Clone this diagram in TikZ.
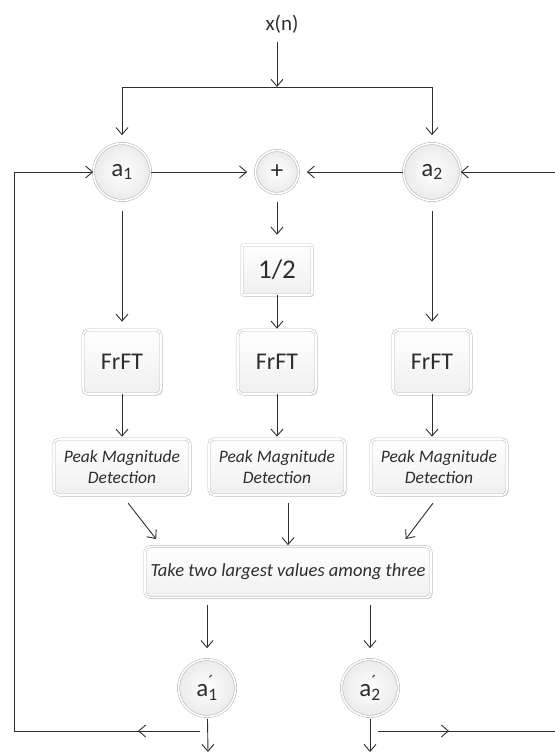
\documentclass[tikz,border=0pt]{standalone}
\usepackage{fontspec}
\setmainfont{Carlito}
\usetikzlibrary{arrows.meta,shadows}
\tikzset{ball/.style = {circle, draw=gray!55, double=white, double distance=1.6pt, line width=.6pt,
                        inner color=white, outer color=gray!16, minimum size=57pt, inner sep=0pt,
                        font=\fontsize{25}{25}\selectfont},
         blk/.style  = {rectangle, rounded corners=5pt, draw=gray!50, double=white, double distance=1.6pt,
                        line width=.6pt, top color=white, bottom color=gray!12, inner sep=0pt,
                        drop shadow={shadow xshift=1.5pt, shadow yshift=-1.5pt, fill=gray!70, opacity=.45}},
         fft/.style  = {blk, minimum width=78pt, minimum height=64pt, font=\fontsize{24}{24}\selectfont},
         pmd/.style  = {blk, minimum width=136pt, minimum height=56pt, align=center,
                        font=\fontsize{17.5}{21}\selectfont\itshape}}
\newcommand{\apr}[1]{a\rlap{\textsuperscript{´}}\textsubscript{#1}}

\begin{document}
\begin{tikzpicture}[x=1pt, y=-1pt, color=black!82, line width=.9pt, >={Straight Barb[length=7pt,width=12pt]}]
    \useasboundingbox (0,0) rectangle (554,752);
    \node[font=\fontsize{21}{21}\selectfont] (xn) at (282,24) {x(n)};
    \coordinate (top) at (277,87);
    \node[ball] (a1) at (122,172) {a\textsubscript{1}};
    \node[ball, minimum size=43pt] (sum) at (277,172) {+};
    \node[ball] (a2) at (432,172) {a\textsubscript{2}};
    \node[blk, rounded corners=1pt, minimum width=70pt, minimum height=50pt,
          font=\fontsize{27}{27}\selectfont] (half) at (277,270) {1/2};
    \node[fft] (f1) at (122,362) {FrFT}; \node[fft] (f2) at (277,362) {FrFT}; \node[fft] (f3) at (432,362) {FrFT};
    \node[pmd] (p1) at (122,467) {Peak Magnitude\\Detection};
    \node[pmd] (p2) at (277,467) {Peak Magnitude\\Detection};
    \node[pmd] (p3) at (439,467) {Peak Magnitude\\Detection};
    \node[blk, minimum width=286pt, minimum height=51pt, font=\fontsize{18.5}{21}\selectfont\itshape]
          (take) at (288,572) {Take two largest values among three};
    \node[ball] (ap1) at (207,688) {\apr{1}};
    \node[ball] (ap2) at (370,688) {\apr{2}};
    \coordinate (o1) at (208,752); \coordinate (o2) at (370,752);
    \coordinate (l1) at (200,731); \coordinate (m1) at (138,731); \coordinate (l2) at (14,731);
    \coordinate (r1) at (378,731); \coordinate (m2) at (449,731); \coordinate (r2) at (557,731);
    % input and split
    \draw[->, shorten <=5pt] (top |- xn.south) -- (top);
    \draw[->, shorten >=8pt] (top) -| (a1);
    \draw[->, shorten >=8pt] (top) -| (a2);
    \draw[->, shorten >=8pt] (a1) -- (sum);
    \draw[->, shorten >=8pt] (a2) -- (sum);
    \draw[->, shorten <=8pt, shorten >=10pt] (sum) -- (half);
    % three branches
    \draw[->, shorten <=10pt, shorten >=8pt] (a1) -- (f1);
    \draw[->, shorten >=1pt] (half) -- (f2);
    \draw[->, shorten <=10pt, shorten >=8pt] (a2) -- (f3);
    \draw[->, shorten >=2pt] (f1) -- (p1);
    \draw[->, shorten >=2pt] (f2) -- (p2);
    \draw[->, shorten >=2pt] (f3) -- (f3 |- p3.north);
    \draw[->, shorten <=10pt, shorten >=9pt] (p1.south) -- ([xshift=17pt]take.north west);
    \draw[->, shorten <=8pt, shorten >=1pt] (take.north |- p2.south) -- (take.north);
    \draw[->, shorten <=10pt, shorten >=9pt] (p3.south) -- ([xshift=-31pt]take.north east);
    \draw[->, shorten <=7pt, shorten >=11pt] (take.south -| ap1) -- (ap1);
    \draw[->, shorten <=7pt, shorten >=11pt] (take.south -| ap2) -- (ap2);
    % outputs and feedback
    \draw[->, shorten <=2pt] (ap1) -- (o1);
    \draw[->, shorten <=2pt] (ap2) -- (o2);
    \draw[->] (l1) -- (l2) |- (a1);
    \draw[->] (l1) -- (m1);
    \draw[->] (r1) -- (r2) |- (a2);
    \draw[->] (r1) -- (m2);
\end{tikzpicture}
\end{document}
